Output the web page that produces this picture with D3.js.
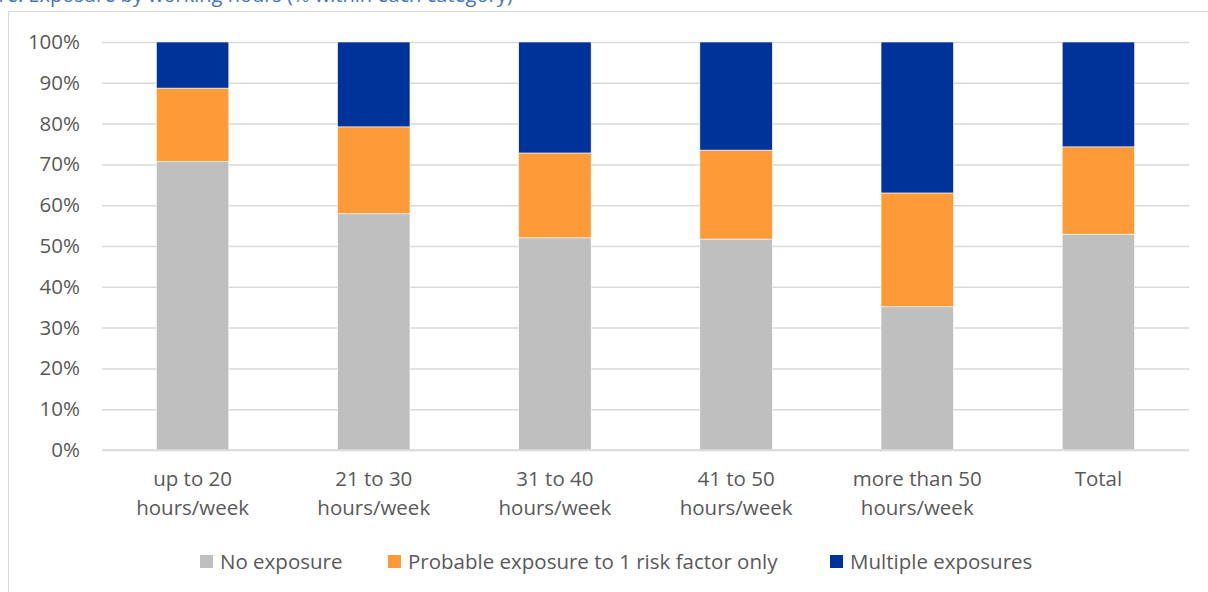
<!DOCTYPE html>
<html><head><meta charset="utf-8">
<script src="https://cdn.jsdelivr.net/npm/d3@7"></script>
<style>body{margin:0;background:#fff;}svg{display:block;}</style>
</head><body>
<svg id="c" width="1208" height="592"></svg>
<script>
const categories = [["up to 20","hours/week"],["21 to 30","hours/week"],["31 to 40","hours/week"],["41 to 50","hours/week"],["more than 50","hours/week"],["Total"]];
const seriesNames = ["No exposure","Probable exposure to 1 risk factor only","Multiple exposures"];
const noExposure = [70.7, 57.9, 52.0, 51.7, 35.1, 52.9];
const probable = [18.0, 21.3, 20.8, 21.8, 27.9, 21.4];
const multiple = [11.3, 20.8, 27.2, 26.5, 37.0, 25.7];
const yTicks = [0,10,20,30,40,50,60,70,80,90,100];
const colors = ["#bfbfbf","#fe9a37","#003399"];

(function(){
const svg = d3.select("#c");
const font = "'Open Sans', Lato, sans-serif";
const txt = "#595959";
const fs = 20.5;

// title (cut off at the top edge, as in the reference)
svg.append("text").attr("x", -40).attr("y", 2).attr("font-family", font).attr("font-size", 20)
  .attr("fill", "#4472c4").text("Figure: Exposure by working hours (% within each category)");
// outer border
svg.append("rect").attr("x", 8.5).attr("y", 11.5).attr("width", 1210).attr("height", 600)
  .attr("fill", "#fff").attr("stroke", "#d9d9d9").attr("stroke-width", 1);

const pl = 102, pr = 1189, pt = 42, pb = 450;
const x = d3.scaleBand().domain(d3.range(categories.length)).range([pl, pr]).paddingInner(0.6).paddingOuter(0.3);
const y = d3.scaleLinear().domain([0, 100]).range([pb, pt]);

const yAxis = d3.axisLeft(y).tickValues(yTicks).tickSize(-(pr - pl)).tickFormat(d => d + "%");
const gy = svg.append("g").attr("transform", `translate(${pl},0)`).call(yAxis);
gy.select(".domain").remove();
gy.selectAll(".tick line").attr("stroke", "#d9d9d9").attr("stroke-width", 1.5);
gy.selectAll(".tick text").attr("x", -22).attr("font-family", font).attr("font-size", fs).attr("fill", txt);

const data = categories.map((c, i) => ({i, v: [noExposure[i], probable[i], multiple[i]]}));
const stack = d3.stack().keys([0,1,2]).value((d, k) => d.v[k]);
const layers = stack(data);
svg.append("g").selectAll("g").data(layers).join("g").attr("fill", (d, k) => colors[k])
  .selectAll("rect").data(d => d).join("rect")
  .attr("x", d => x(d.data.i)).attr("width", x.bandwidth())
  .attr("y", d => y(Math.min(100, d[1]))).attr("height", d => y(d[0]) - y(Math.min(100, d[1])))
  .attr("stroke", "#fff").attr("stroke-width", 0.6);

svg.append("line").attr("x1", pl).attr("x2", pr).attr("y1", y(0)).attr("y2", y(0))
  .attr("stroke", "#d9d9d9").attr("stroke-width", 1.5);

const gx = svg.append("g");
categories.forEach((lines, i) => {
  const cx = x(i) + x.bandwidth() / 2;
  const t = gx.append("text").attr("x", cx).attr("y", 486)
    .attr("text-anchor", "middle").attr("font-family", font).attr("font-size", fs).attr("fill", txt);
  lines.forEach((l, j) => t.append("tspan").attr("x", cx).attr("dy", j ? 29 : 0).text(l));
});

const legX = [200, 388, 830];
const lg = svg.append("g");
seriesNames.forEach((n, k) => {
  lg.append("rect").attr("x", legX[k]).attr("y", 555).attr("width", 13).attr("height", 13).attr("fill", colors[k]);
  lg.append("text").attr("x", legX[k] + 20).attr("y", 569).attr("font-family", font).attr("font-size", fs).attr("fill", txt).text(n);
});
})();
</script>
</body></html>
